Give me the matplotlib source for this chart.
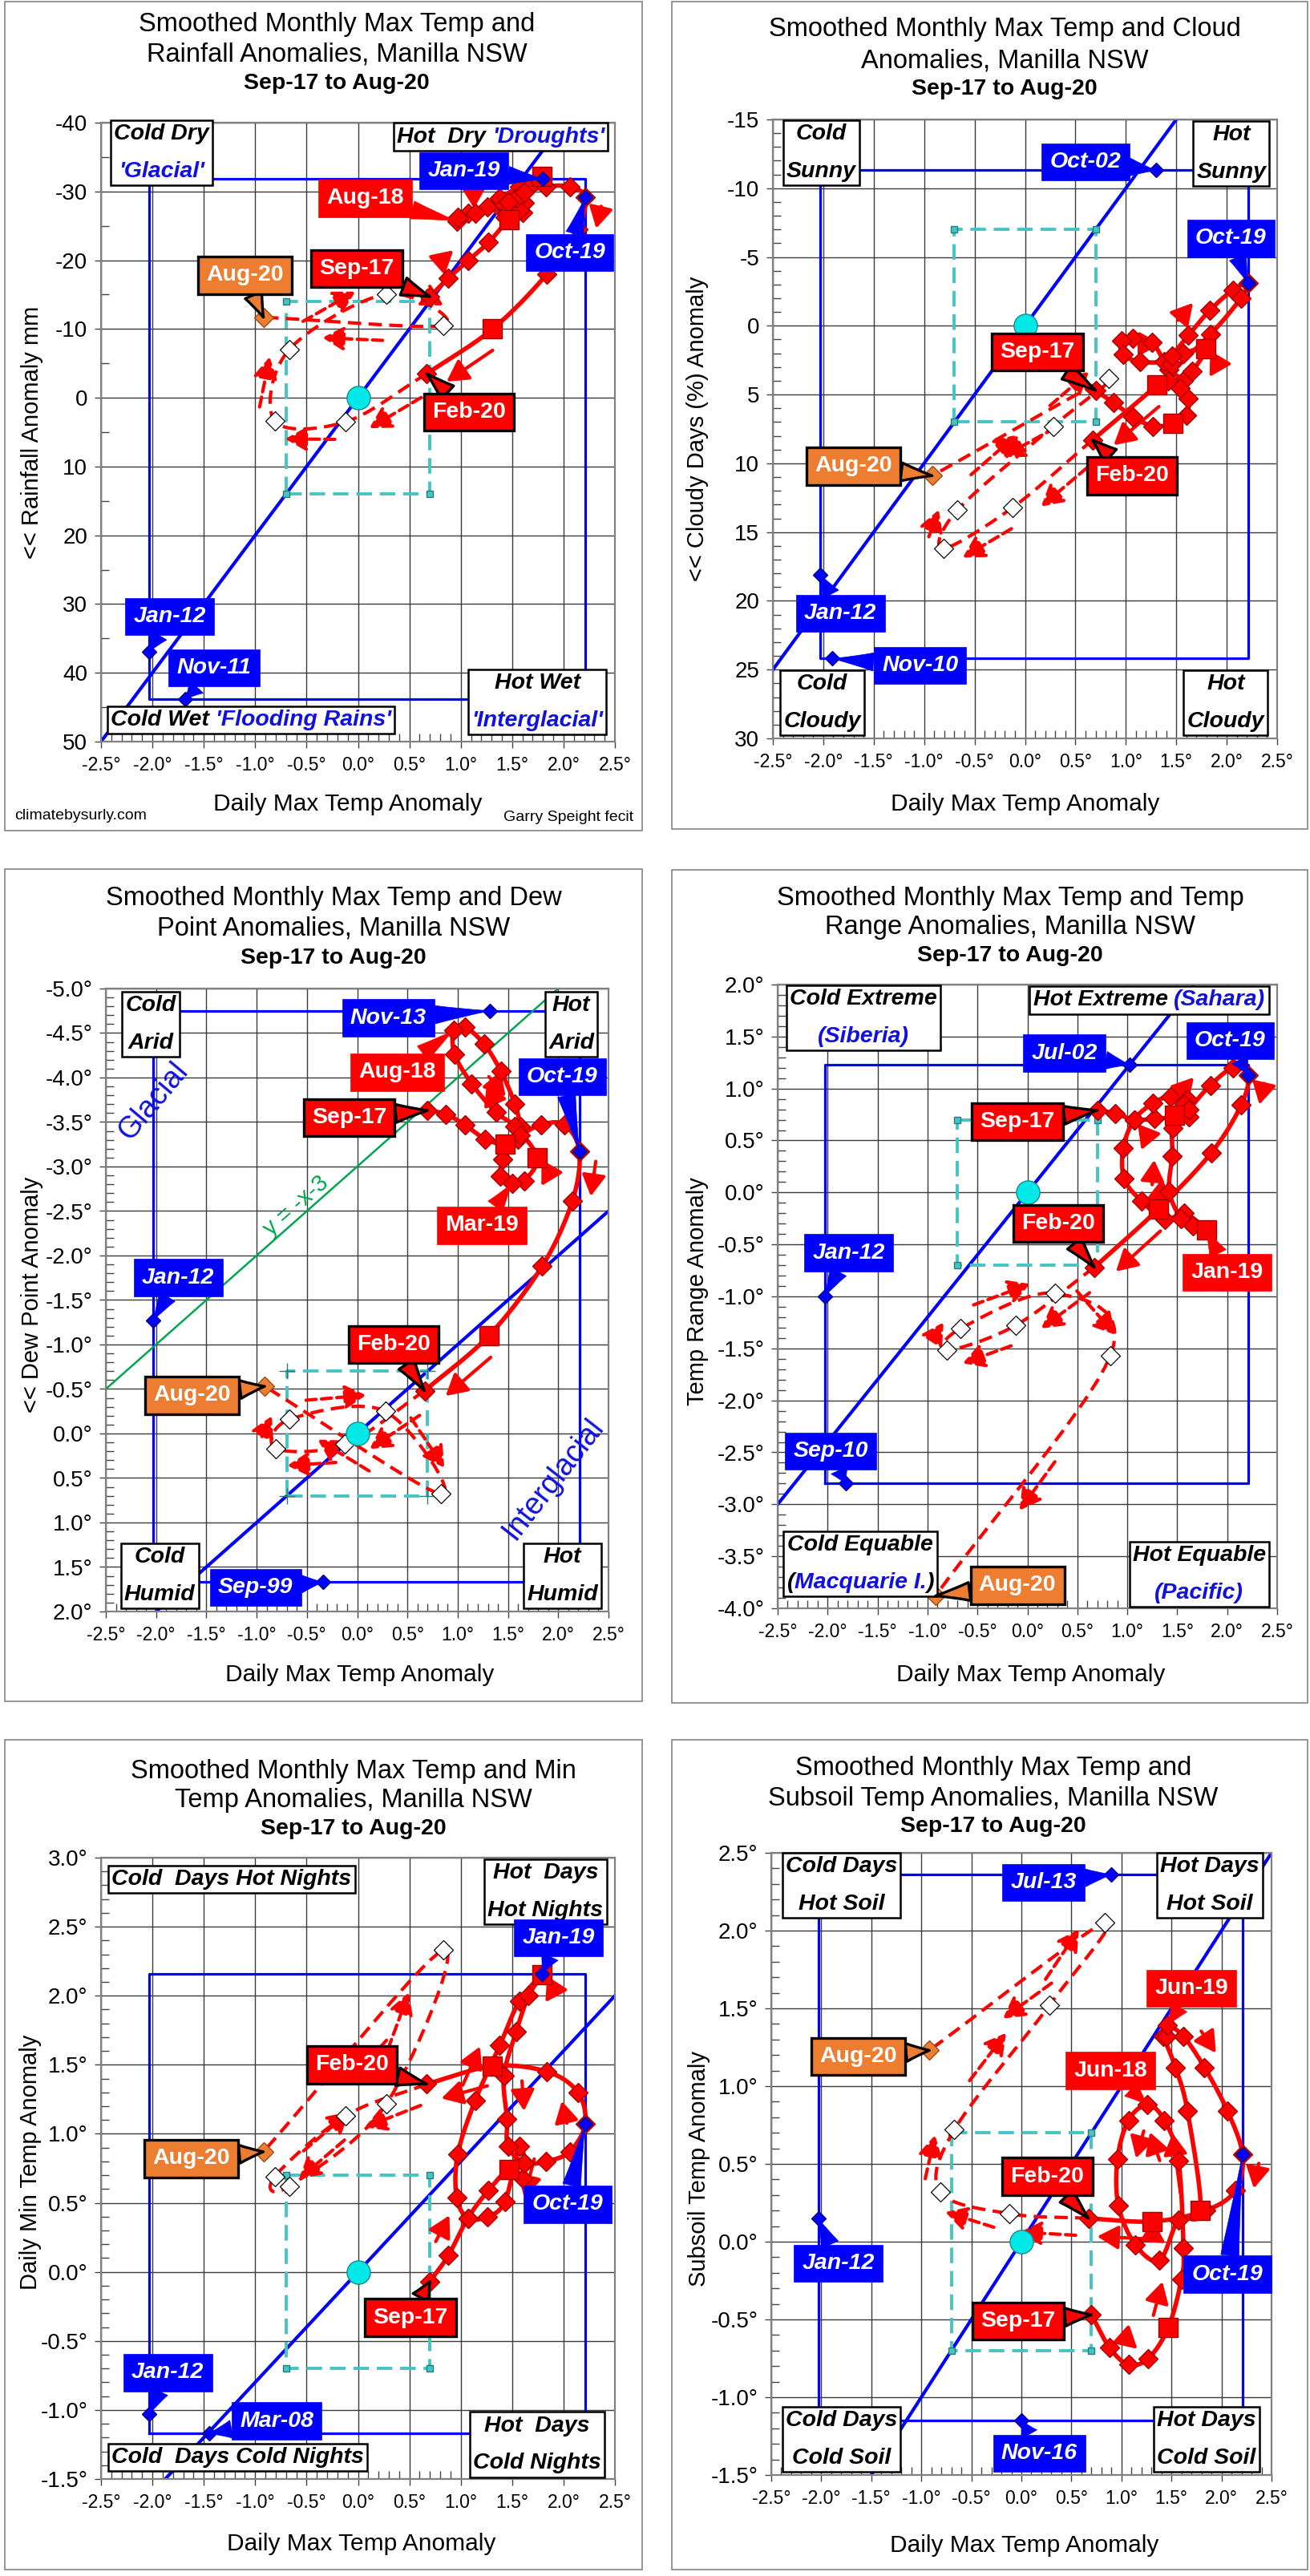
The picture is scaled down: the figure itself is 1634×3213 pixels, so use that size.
import numpy as np
import matplotlib
matplotlib.use("Agg")
import matplotlib.pyplot as plt
from matplotlib.patches import Rectangle
from matplotlib.ticker import MultipleLocator, FuncFormatter
from matplotlib.offsetbox import TextArea, HPacker, VPacker, AnnotationBbox

plt.rcParams['font.family'] = ['Liberation Sans', 'DejaVu Sans']

W, H = 1634, 3213
RED = '#FF0000'
BLUE = '#0000FF'
ORANGE = '#ED7D31'
CYAN = '#00E8E8'
TEAL = '#45C4C4'
GREEN = '#00A550'

# ---- data: smoothed monthly anomalies, Sep-17 .. Aug-20 ----
months = ['Sep-17', 'Oct-17', 'Nov-17', 'Dec-17',
          'Jan-18', 'Feb-18', 'Mar-18', 'Apr-18', 'May-18', 'Jun-18',
          'Jul-18', 'Aug-18', 'Sep-18', 'Oct-18', 'Nov-18', 'Dec-18',
          'Jan-19', 'Feb-19', 'Mar-19', 'Apr-19', 'May-19', 'Jun-19',
          'Jul-19', 'Aug-19', 'Sep-19', 'Oct-19', 'Nov-19', 'Dec-19',
          'Jan-20', 'Feb-20', 'Mar-20', 'Apr-20', 'May-20', 'Jun-20',
          'Jul-20', 'Aug-20']
max_anom = [0.70, 0.88, 1.07, 1.27, 1.47, 1.60, 1.62, 1.57, 1.43, 1.26,
            1.07, 0.96, 0.97, 1.14, 1.38, 1.57, 1.79, 1.66, 1.54, 1.42,
            1.45, 1.46, 1.62, 1.83, 2.06, 2.21, 2.14, 1.84, 1.31, 0.67,
            -0.12, -0.81, -0.67, 0.28, 0.83, -0.92]
rain_anom = [-14.7, -17.4, -19.9, -22.6, -25.9, -27.0, -28.3, -27.3, -26.3, -27.8,
             -26.8, -25.7, -26.3, -26.8, -29.0, -30.7, -32.2, -30.5, -29.0, -28.0,
             -27.0, -28.5, -29.8, -30.7, -30.7, -29.1, -24.5, -18.0, -10.0, -3.5,
             3.5, 3.4, -7.0, -15.1, -10.5, -11.7]
cloud_anom = [4.7, 5.6, 6.6, 7.3, 7.1, 6.5, 5.3, 4.0, 3.2, 1.2,
              0.9, 1.1, 2.1, 2.6, 2.6, 2.0, 1.7, 3.3, 4.5, 4.0,
              2.8, 2.2, 0.7, -1.1, -2.6, -3.1, -2.0, 0.6, 4.3, 8.3,
              13.2, 16.2, 13.4, 7.3, 3.8, 10.9]
dew_anom = [-3.63, -3.59, -3.47, -3.31, -3.25, -3.31, -3.45, -3.70, -4.07, -4.38,
            -4.57, -4.53, -4.26, -3.93, -3.61, -3.45, -3.10, -2.84, -2.81, -2.89,
            -3.08, -3.25, -3.35, -3.47, -3.47, -3.17, -2.61, -1.88, -1.10, -0.48,
            0.12, 0.17, -0.16, -0.25, 0.68, -0.53]
range_anom = [0.79, 0.76, 0.70, 0.71, 0.74, 0.90, 0.73, 0.85, 0.92, 0.86,
              0.70, 0.43, 0.13, -0.08, -0.26, -0.20, -0.36, -0.32, -0.25, 0.01,
              0.35, 0.62, 0.80, 1.03, 1.20, 1.13, 0.84, 0.38, -0.16, -0.72,
              -1.28, -1.52, -1.31, -0.97, -1.57, -3.88]
min_anom = [-0.07, 0.12, 0.39, 0.59, 0.74, 0.68, 0.79, 0.91, 0.51, 0.40,
            0.39, 0.54, 0.85, 1.24, 1.64, 1.96, 2.15, 2.00, 1.74, 1.42,
            1.11, 0.91, 0.79, 0.80, 0.87, 1.07, 1.30, 1.45, 1.49, 1.36,
            1.13, 0.69, 0.62, 1.22, 2.33, 0.87]
soil_anom = [-0.47, -0.68, -0.79, -0.75, -0.55, -0.24, -0.04, 0.52, 0.78, 0.88,
             0.78, 0.53, 0.23, -0.02, -0.12, 0.14, 0.20, 0.84, 1.12, 1.32,
             1.32, 1.39, 1.32, 1.12, 0.84, 0.56, 0.33, 0.20, 0.13, 0.15,
             0.18, 0.32, 0.72, 1.52, 2.05, 1.23]

# record extremes (max temp anomaly, other anomaly)
rain_records = {'Jan-12': (-2.03, 36.9), 'Nov-11': (-1.68, 43.8),
                'Jan-19': (1.80, -31.8), 'Oct-19': (2.21, -29.1)}
cloud_records = {'Oct-02': (1.30, -11.3), 'Oct-19': (2.21, -3.1),
                 'Jan-12': (-2.03, 18.1), 'Nov-10': (-1.91, 24.2)}
dew_records = {'Nov-13': (1.32, -4.75), 'Oct-19': (2.21, -3.17),
               'Jan-12': (-2.03, -1.27), 'Sep-99': (-0.34, 1.67)}
range_records = {'Jul-02': (1.02, 1.23), 'Oct-19': (2.21, 1.13),
                 'Jan-12': (-2.03, -1.0), 'Sep-10': (-1.82, -2.8)}
min_records = {'Jan-19': (1.79, 2.16), 'Oct-19': (2.21, 1.07),
               'Jan-12': (-2.03, -1.03), 'Mar-08': (-1.45, -1.17)}
soil_records = {'Jul-13': (0.90, 2.36), 'Oct-19': (2.21, 0.56),
                'Jan-12': (-2.03, 0.15), 'Nov-16': (0.0, -1.15)}

# half sizes of the one-sigma style box and slope of the diagonal
std_box = {'rain': (0.7, 14), 'cloud': (0.7, 7), 'dew': (0.7, 0.7),
           'range': (0.7, 0.7), 'min': (0.7, 0.7), 'soil': (0.7, 0.7)}
diag_slope = {'rain': -20.0, 'cloud': -10.0, 'dew': -1.0,
              'range': 1.2, 'min': 0.8, 'soil': 1.0}


def fmt_int(v, p):
    return f'{int(round(v))}'


def fmt_deg(v, p):
    return f'{round(v, 1) + 0:.1f}°'


fig = plt.figure(figsize=(W / 100, H / 100), dpi=100)
fig.patch.set_facecolor('white')


def ftext(x, y, s, **kw):
    fig.text(x / W, 1 - y / H, s, ha='center', va='center', **kw)


def frame(l, r, t, b):
    fig.patches.append(Rectangle((l / W, 1 - b / H), (r - l) / W, (b - t) / H,
                                 transform=fig.transFigure, fill=False,
                                 ec='#8c8c8c', lw=1.3))


def smooth_path(ax, xs, ys, n=14):
    P = ax.transData.transform(np.column_stack([xs, ys]))
    Pe = np.vstack([2 * P[0] - P[1], P, 2 * P[-1] - P[-2]])
    t = np.linspace(0, 1, n, endpoint=False)[:, None]
    out = []
    for i in range(1, len(Pe) - 2):
        p0, p1, p2, p3 = Pe[i - 1], Pe[i], Pe[i + 1], Pe[i + 2]
        out.append(0.5 * (2 * p1 + (-p0 + p2) * t + (2 * p0 - 5 * p1 + 4 * p2 - p3) * t ** 2
                          + (-p0 + 3 * p1 - 3 * p2 + p3) * t ** 3))
    out.append(P[-1:])
    D = ax.transData.inverted().transform(np.vstack(out))
    return D[:, 0], D[:, 1]


def flow_arrows(ax, px, py, segs, dashed):
    P = ax.transData.transform(np.column_stack([px, py]))
    inv = ax.transData.inverted()
    for i in segs:
        d = P[i + 1] - P[i]
        L = np.hypot(d[0], d[1])
        if L < 30:
            continue
        u = d / L
        nrm = np.array([-u[1], u[0]])
        c = (P[i] + P[i + 1]) / 2 + nrm * 22
        ln = min(75.0, 0.7 * L)
        tail = inv.transform(c - u * ln / 2)
        head = inv.transform(c + u * ln / 2)
        ax.annotate('', xy=head, xytext=tail,
                    arrowprops=dict(arrowstyle='-|>,head_length=0.8,head_width=0.45',
                                    color=RED, lw=3.0, shrinkA=0, shrinkB=0,
                                    ls=(0, (3, 1.6)) if dashed else '-',
                                    mutation_scale=20),
                    zorder=4)


def callout(ax, text, xy, xytext, kind):
    fc = {'blue': BLUE, 'red': RED, 'redb': RED, 'orange': ORANGE}[kind]
    boxed = kind in ('redb', 'orange')
    ec = 'black' if boxed else fc
    lw = 2.4 if boxed else 0.5
    ax.annotate(text, xy=xy, xytext=xytext, xycoords='data', textcoords='data',
                ha='center', va='center', fontsize=20.5, fontweight='bold',
                fontstyle='italic' if kind == 'blue' else 'normal', color='white',
                bbox=dict(boxstyle='square,pad=0.36', fc=fc, ec=ec, lw=lw),
                arrowprops=dict(arrowstyle='wedge,tail_width=0.8,shrink_factor=0.45',
                                fc=fc, ec=ec, lw=lw, shrinkA=0, shrinkB=0),
                zorder=10)


def corner(ax, lines, xy, fs=20.5):
    rows = []
    for line in lines:
        parts = [TextArea(s, textprops=dict(color=c, fontsize=fs, fontweight='bold',
                                            fontstyle='italic')) for s, c in line]
        rows.append(HPacker(children=parts, align='baseline', pad=0, sep=0))
    box = VPacker(children=rows, align='center', pad=0, sep=15)
    ab = AnnotationBbox(box, xy, xycoords='data', frameon=True, pad=0.8,
                        box_alignment=(0.5, 0.5),
                        bboxprops=dict(boxstyle='square', fc='white', ec='black', lw=1.8))
    ab.set_zorder(9)
    ax.add_artist(ab)


K = 'black'
B = '#1010E0'

panels = [
    dict(key='rain', y=rain_anom, rec=rain_records, ylim=(50, -40), ymaj=10, ymin=5, fmt=fmt_int,
         axes=(126, 767, 153, 925), frame=(6, 801, 2, 1036), tx=420, ty=(30, 68, 104),
         title=('Smoothed Monthly Max Temp and', 'Rainfall Anomalies, Manilla NSW'),
         xl=(434, 1003), yl=(40, 539), ylabel='<< Rainfall Anomaly mm',
         corners=[([[('Cold Dry', K)], [("'Glacial'", B)]], (-1.91, -35.6)),
                  ([[('Hot  Dry ', K), ("'Droughts'", B)]], (1.39, -37.95)),
                  ([[('Cold Wet ', K), ("'Flooding Rains'", B)]], (-1.04, 46.85)),
                  ([[('Hot Wet', K)], [("'Interglacial'", B)]], (1.745, 44.25))],
         calls=[('Jan-19', 'blue', 'r', (1.03, -33.0)), ('Oct-19', 'blue', 'r', (2.06, -21.1)),
                ('Jan-12', 'blue', 'r', (-1.83, 31.8)), ('Nov-11', 'blue', 'r', (-1.40, 39.3)),
                ('Aug-18', 'red', 'm', (0.07, -29.0)), ('Sep-17', 'redb', 'm', (-0.01, -18.8)),
                ('Feb-20', 'redb', 'm', (1.08, 2.1)), ('Aug-20', 'orange', 'm', (-1.10, -17.8))]),
    dict(key='cloud', y=cloud_anom, rec=cloud_records, ylim=(30, -15), ymaj=5, ymin=1, fmt=fmt_int,
         axes=(964, 1593, 149, 921), frame=(838, 1631, 2, 1034), tx=1253, ty=(37, 76, 111),
         title=('Smoothed Monthly Max Temp and Cloud', 'Anomalies, Manilla NSW'),
         xl=(1279, 1003), yl=(870, 535), ylabel='<< Cloudy Days (%) Anomaly',
         corners=[([[('Cold', K)], [('Sunny', K)]], (-2.02, -12.6)),
                  ([[('Hot', K)], [('Sunny', K)]], (2.045, -12.5)),
                  ([[('Cold', K)], [('Cloudy', K)]], (-2.01, 27.4)),
                  ([[('Hot', K)], [('Cloudy', K)]], (1.99, 27.4))],
         calls=[('Oct-02', 'blue', 'r', (0.60, -11.9)), ('Oct-19', 'blue', 'r', (2.04, -6.35)),
                ('Jan-12', 'blue', 'r', (-1.83, 20.9)), ('Nov-10', 'blue', 'r', (-1.04, 24.7)),
                ('Sep-17', 'redb', 'm', (0.12, 1.9)), ('Feb-20', 'redb', 'm', (1.06, 10.9)),
                ('Aug-20', 'orange', 'm', (-1.70, 10.2))]),
    dict(key='dew', y=dew_anom, rec=dew_records, ylim=(2.0, -5.0), ymaj=0.5, ymin=0.1, fmt=fmt_deg,
         axes=(132, 759, 1233, 2010), frame=(6, 801, 1084, 2122), tx=416, ty=(1121, 1158, 1195),
         title=('Smoothed Monthly Max Temp and Dew', 'Point Anomalies, Manilla NSW'),
         xl=(449, 2089), yl=(40, 1615), ylabel='<< Dew Point Anomaly',
         corners=[([[('Cold', K)], [('Arid', K)]], (-2.055, -4.6)),
                  ([[('Hot', K)], [('Arid', K)]], (2.13, -4.6)),
                  ([[('Cold', K)], [('Humid', K)]], (-1.965, 1.6)),
                  ([[('Hot', K)], [('Humid', K)]], (2.04, 1.6))],
         calls=[('Nov-13', 'blue', 'r', (0.31, -4.67)), ('Oct-19', 'blue', 'r', (2.04, -4.01)),
                ('Jan-12', 'blue', 'r', (-1.78, -1.75)), ('Sep-99', 'blue', 'r', (-1.01, 1.73)),
                ('Aug-18', 'red', 'm', (0.40, -4.06)), ('Sep-17', 'redb', 'm', (-0.08, -3.55)),
                ('Mar-19', 'red', 'm', (1.24, -2.34)), ('Feb-20', 'redb', 'm', (0.36, -1.0)),
                ('Aug-20', 'orange', 'm', (-1.64, -0.43))]),
    dict(key='range', y=range_anom, rec=range_records, ylim=(-4.0, 2.0), ymaj=0.5, ymin=0.1, fmt=fmt_deg,
         axes=(970, 1593, 1228, 2006), frame=(838, 1631, 1085, 2124), tx=1260, ty=(1120, 1157, 1192),
         title=('Smoothed Monthly Max Temp and Temp', 'Range Anomalies, Manilla NSW'),
         xl=(1286, 2089), yl=(870, 1611), ylabel='Temp Range Anomaly',
         corners=[([[('Cold Extreme', K)], [('(Siberia)', B)]], (-1.64, 1.68)),
                  ([[('Hot Extreme ', K), ('(Sahara)', B)]], (1.22, 1.85)),
                  ([[('Cold Equable', K)], [('(', K), ('Macquarie I.', B), (')', K)]], (-1.67, -3.57)),
                  ([[('Hot Equable', K)], [('(Pacific)', B)]], (1.72, -3.67))],
         calls=[('Jul-02', 'blue', 'r', (0.37, 1.34)), ('Oct-19', 'blue', 'r', (2.03, 1.46)),
                ('Jan-12', 'blue', 'r', (-1.79, -0.58)), ('Sep-10', 'blue', 'r', (-1.97, -2.49)),
                ('Sep-17', 'redb', 'm', (-0.10, 0.68)), ('Feb-20', 'redb', 'm', (0.31, -0.30)),
                ('Jan-19', 'red', 'm', (2.0, -0.77)), ('Aug-20', 'orange', 'm', (-0.10, -3.78))]),
    dict(key='min', y=min_anom, rec=min_records, ylim=(-1.5, 3.0), ymaj=0.5, ymin=0.1, fmt=fmt_deg,
         axes=(126, 767, 2317, 3092), frame=(6, 801, 2170, 3205), tx=441, ty=(2209, 2245, 2281),
         title=('Smoothed Monthly Max Temp and Min', 'Temp Anomalies, Manilla NSW'),
         xl=(451, 3173), yl=(38, 2697), ylabel='Daily Min Temp Anomaly',
         corners=[([[('Cold  Days Hot Nights', K)]], (-1.23, 2.845)),
                  ([[('Hot  Days', K)], [('Hot Nights', K)]], (1.825, 2.755)),
                  ([[('Cold  Days Cold Nights', K)]], (-1.17, -1.345)),
                  ([[('Hot  Days', K)], [('Cold Nights', K)]], (1.74, -1.25))],
         calls=[('Jan-19', 'blue', 'r', (1.95, 2.42)), ('Oct-19', 'blue', 'r', (2.04, 0.49)),
                ('Jan-12', 'blue', 'r', (-1.85, -0.73)), ('Mar-08', 'blue', 'r', (-0.79, -1.08)),
                ('Feb-20', 'redb', 'm', (-0.06, 1.50)), ('Sep-17', 'redb', 'm', (0.51, -0.33)),
                ('Aug-20', 'orange', 'm', (-1.62, 0.82))]),
    dict(key='soil', y=soil_anom, rec=soil_records, ylim=(-1.5, 2.5), ymaj=0.5, ymin=0.1, fmt=fmt_deg,
         axes=(962, 1586, 2311, 3087), frame=(838, 1631, 2170, 3205), tx=1239, ty=(2205, 2243, 2278),
         title=('Smoothed Monthly Max Temp and', 'Subsoil Temp Anomalies, Manilla NSW'),
         xl=(1278, 3175), yl=(872, 2705), ylabel='Subsoil Temp Anomaly',
         corners=[([[('Cold Days', K)], [('Hot Soil', K)]], (-1.80, 2.29)),
                  ([[('Hot Days', K)], [('Hot Soil', K)]], (1.885, 2.29)),
                  ([[('Cold Days', K)], [('Cold Soil', K)]], (-1.80, -1.27)),
                  ([[('Hot Days', K)], [('Cold Soil', K)]], (1.85, -1.27))],
         calls=[('Jul-13', 'blue', 'r', (0.22, 2.31)), ('Oct-19', 'blue', 'r', (2.06, -0.21)),
                ('Jan-12', 'blue', 'r', (-1.83, -0.14)), ('Nov-16', 'blue', 'r', (0.18, -1.36)),
                ('Jun-19', 'red', 'm', (1.70, 1.63)), ('Jun-18', 'red', 'm', (0.89, 1.10)),
                ('Feb-20', 'redb', 'm', (0.26, 0.42)), ('Sep-17', 'redb', 'm', (-0.03, -0.51)),
                ('Aug-20', 'orange', 'm', (-1.63, 1.19))]),
]

xs = np.array(max_anom)
n_solid = months.index('Feb-20') + 1
jan = [i for i in range(n_solid) if months[i].startswith('Jan')]
dia = [i for i in range(n_solid) if i not in jan]

for p in panels:
    frame(*p['frame'])
    ftext(p['tx'], p['ty'][0], p['title'][0], fontsize=23.5)
    ftext(p['tx'], p['ty'][1], p['title'][1], fontsize=23.5)
    ftext(p['tx'], p['ty'][2], 'Sep-17 to Aug-20', fontsize=20.5, fontweight='bold')
    ftext(*p['xl'], 'Daily Max Temp Anomaly', fontsize=21.5)
    ftext(*p['yl'], p['ylabel'], fontsize=21, rotation=90)

    l, r, t, b = p['axes']
    ax = fig.add_axes([l / W, 1 - b / H, (r - l) / W, (b - t) / H])
    ax.set_xlim(-2.5, 2.5)
    ax.set_ylim(*p['ylim'])
    ax.xaxis.set_major_locator(MultipleLocator(0.5))
    ax.xaxis.set_minor_locator(MultipleLocator(0.1))
    ax.yaxis.set_major_locator(MultipleLocator(p['ymaj']))
    ax.yaxis.set_minor_locator(MultipleLocator(p['ymin']))
    ax.xaxis.set_major_formatter(FuncFormatter(fmt_deg))
    ax.yaxis.set_major_formatter(FuncFormatter(p['fmt']))
    ax.grid(True, which='major', color='#3a3a3a', lw=1.0)
    ax.set_axisbelow(True)
    ax.tick_params(which='major', direction='out', length=6, width=1, color='#444444')
    ax.tick_params(which='minor', direction='in', length=7, width=1, color='#444444')
    ax.tick_params(axis='x', which='major', labelsize=16.5, pad=7)
    ax.tick_params(axis='y', which='major', labelsize=20, pad=6)
    for s in ax.spines.values():
        s.set_color('#808080')
        s.set_linewidth(1.6)

    ys = np.array(p['y'], dtype=float)
    key = p['key']

    # record box
    rx = [v[0] for v in p['rec'].values()]
    ry = [v[1] for v in p['rec'].values()]
    x0, x1, y0, y1 = min(rx), max(rx), min(ry), max(ry)
    ax.plot([x0, x1, x1, x0, x0], [y0, y0, y1, y1, y0], color=BLUE, lw=2.3, zorder=2)
    ax.axline((0, 0), slope=diag_slope[key], color=BLUE, lw=3.0, zorder=2)

    if key == 'dew':
        ax.axline((0, -3), slope=-1, color=GREEN, lw=1.8, zorder=2)
        a = ax.transData.transform([(0, -3), (1, -4)])
        ang = np.degrees(np.arctan2(a[1, 1] - a[0, 1], a[1, 0] - a[0, 0]))
        ax.text(-0.61, -2.56, 'y = -x-3', color=GREEN, fontsize=21, rotation=ang,
                rotation_mode='anchor', ha='center', va='center', zorder=3)
        ax.text(-2.03, -3.73, 'Glacial', color=B, fontsize=27, rotation=50,
                rotation_mode='anchor', ha='center', va='center', zorder=3)
        ax.text(1.95, 0.51, 'Interglacial', color=B, fontsize=27, rotation=52,
                rotation_mode='anchor', ha='center', va='center', zorder=3)

    # std box and origin
    bx, by = std_box[key]
    ax.plot([-bx, bx, bx, -bx, -bx], [by, by, -by, -by, by], color=TEAL, lw=2.8,
            ls=(0, (5, 2.5)), zorder=3)
    ax.plot([-bx, bx, bx, -bx], [by, by, -by, -by], '+' if key == 'dew' else 's',
            ms=6 if key != 'dew' else 14, mfc=TEAL, mec='#2a7a7a', mew=1, ls='none', zorder=3)
    ax.plot([0], [0], 'o', ms=21, mfc=CYAN, mec='#1a8a8a', mew=1, zorder=6)

    # trajectory
    sx, sy = smooth_path(ax, xs[:n_solid], ys[:n_solid])
    ax.plot(sx, sy, color=RED, lw=4.0, zorder=4, solid_capstyle='round')
    dx, dy = smooth_path(ax, xs[n_solid - 1:], ys[n_solid - 1:])
    ax.plot(dx, dy, color=RED, lw=3.0, ls=(0, (4, 2.2)), zorder=4)
    flow_arrows(ax, xs, ys, range(1, n_solid - 1, 3), False)
    flow_arrows(ax, xs, ys, range(n_solid - 1, len(xs) - 1), True)

    ax.plot(xs[dia], ys[dia], 'D', ms=12.5, mfc=RED, mec='#A00000', mew=1, ls='none', zorder=5)
    ax.plot(xs[jan], ys[jan], 's', ms=17, mfc=RED, mec='#A00000', mew=1, ls='none', zorder=5)
    ax.plot(xs[n_solid:-1], ys[n_solid:-1], 'D', ms=12, mfc='white', mec='black', mew=0.9,
            ls='none', zorder=5)
    ax.plot(xs[-1:], ys[-1:], 'D', ms=12.5, mfc=ORANGE, mec='#A04A10', mew=1, ls='none', zorder=5)
    ax.plot(rx, ry, 'D', ms=9, mfc=BLUE, mec='#000080', mew=1, ls='none', zorder=6)

    for lines, xy in p['corners']:
        corner(ax, lines, xy)
    for text, kind, src, pos in p['calls']:
        if src == 'r':
            target = p['rec'][text]
        else:
            i = months.index(text)
            target = (xs[i], ys[i])
        callout(ax, text, target, pos, kind)

ftext(101, 1018, 'climatebysurly.com', fontsize=14)
ftext(709, 1020, 'Garry Speight fecit', fontsize=14)

fig.savefig('out.png', dpi=100, facecolor='white')
